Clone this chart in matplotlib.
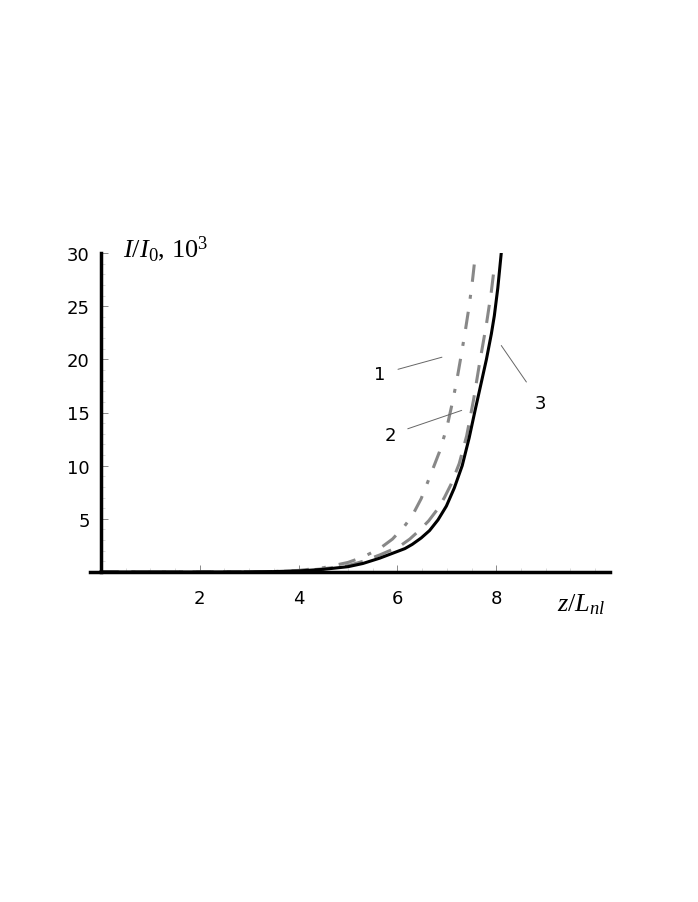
import matplotlib
matplotlib.use("Agg")
import matplotlib.pyplot as plt
from matplotlib.ticker import MultipleLocator

plt.rcParams['mathtext.fontset'] = 'custom'
plt.rcParams['mathtext.rm'] = 'Liberation Serif'
plt.rcParams['mathtext.it'] = 'Liberation Serif:italic'

# curve 1 (dash-dot)
z1 = [0, 1, 2, 3, 3.5, 4, 4.5, 5, 5.3, 5.64, 5.9, 6.14, 6.3, 6.48, 6.65, 6.85,
      7.0, 7.11, 7.2, 7.29, 7.37, 7.45, 7.52, 7.58]
i1 = [0, 0, 0, 0.02, 0.05, 0.15, 0.4, 0.9, 1.4, 2.2, 3.1, 4.3, 5.3, 6.9, 8.9, 11.3,
      13.6, 15.9, 18.0, 20.4, 22.6, 25.0, 27.5, 30.0]

# curve 2 (dashed)
z2 = [0, 1, 2, 3, 3.5, 4, 4.5, 5, 5.3, 5.64, 6.04, 6.25, 6.44, 6.63, 6.81, 6.95,
      7.09, 7.25, 7.4, 7.54, 7.66, 7.8, 7.9, 7.96]
i2 = [0, 0, 0, 0.01, 0.04, 0.1, 0.3, 0.6, 1.0, 1.6, 2.4, 3.1, 3.9, 4.8, 5.9, 7.0,
      8.3, 10.2, 12.8, 16.2, 19.6, 23.3, 26.4, 28.7]

# curve 3 (solid)
z3 = [0, 1, 2, 3, 3.5, 4, 4.5, 5, 5.3, 5.64, 5.98, 6.15, 6.3, 6.48, 6.65, 6.82,
      6.99, 7.15, 7.31, 7.45, 7.58, 7.7, 7.8, 7.9, 7.96, 8.03, 8.1]
i3 = [0, 0, 0, 0.01, 0.04, 0.1, 0.25, 0.5, 0.8, 1.3, 1.9, 2.2, 2.6, 3.2, 3.9, 4.9,
      6.2, 7.9, 10.0, 12.6, 15.4, 17.9, 20.0, 22.4, 24.1, 26.7, 30.0]

xticks = [2, 4, 6, 8]
yticks = [5, 10, 15, 20, 25, 30]

fig = plt.figure(figsize=(6.98, 9.03), dpi=100)
ax = fig.add_axes([90 / 698, (903 - 573) / 903, 520 / 698, 319 / 903])

ax.plot(z1, i1, color='#888888', lw=2.2, dashes=(5.7, 4.3, 1.3, 4.3))
ax.plot(z2, i2, color='#888888', lw=2.2, dashes=(6, 4))
ax.plot(z3, i3, color='black', lw=2.2)

ax.set_xlim(-0.22, 10.3)
ax.set_ylim(0, 30)

for s in ['top', 'right']:
    ax.spines[s].set_visible(False)
ax.spines['left'].set_position(('data', 0))
ax.spines['left'].set_linewidth(2.5)
ax.spines['bottom'].set_linewidth(2.5)
ax.spines['left'].set_zorder(5)

ax.set_xticks(xticks)
ax.set_yticks(yticks)
ax.xaxis.set_minor_locator(MultipleLocator(0.5))
ax.yaxis.set_minor_locator(MultipleLocator(1))
ax.tick_params(axis='both', which='major', direction='in', length=5, width=0.6,
               color='#777777', labelsize=13, pad=12)
ax.tick_params(axis='both', which='minor', direction='in', length=3, width=0.5,
               color='#cccccc')
ax.tick_params(axis='y', which='major', pad=8)
for lab in ax.get_xticklabels() + ax.get_yticklabels():
    lab.set_fontfamily('DejaVu Sans')

ax.text(0.45, 30.5, r"$I/I_0$, 10$^3$", fontsize=19, va='center', ha='left',
        family='Liberation Serif')
ax.text(10.2, -3.0, r"$z/L_{nl}$", fontsize=19, va='center', ha='right')

# curve labels with leader lines
ax.annotate('1', xy=(6.9, 20.2), xytext=(5.65, 18.6), fontsize=13,
            ha='center', va='center',
            arrowprops=dict(arrowstyle='-', color='#666666', lw=0.7, shrinkA=7, shrinkB=0))
ax.annotate('2', xy=(7.3, 15.2), xytext=(5.85, 12.9), fontsize=13,
            ha='center', va='center',
            arrowprops=dict(arrowstyle='-', color='#666666', lw=0.7, shrinkA=7, shrinkB=0))
ax.annotate('3', xy=(8.1, 21.3), xytext=(8.9, 15.9), fontsize=13,
            ha='center', va='center',
            arrowprops=dict(arrowstyle='-', color='#666666', lw=0.7, shrinkA=8, shrinkB=0))

fig.savefig('out.png', dpi=100)
